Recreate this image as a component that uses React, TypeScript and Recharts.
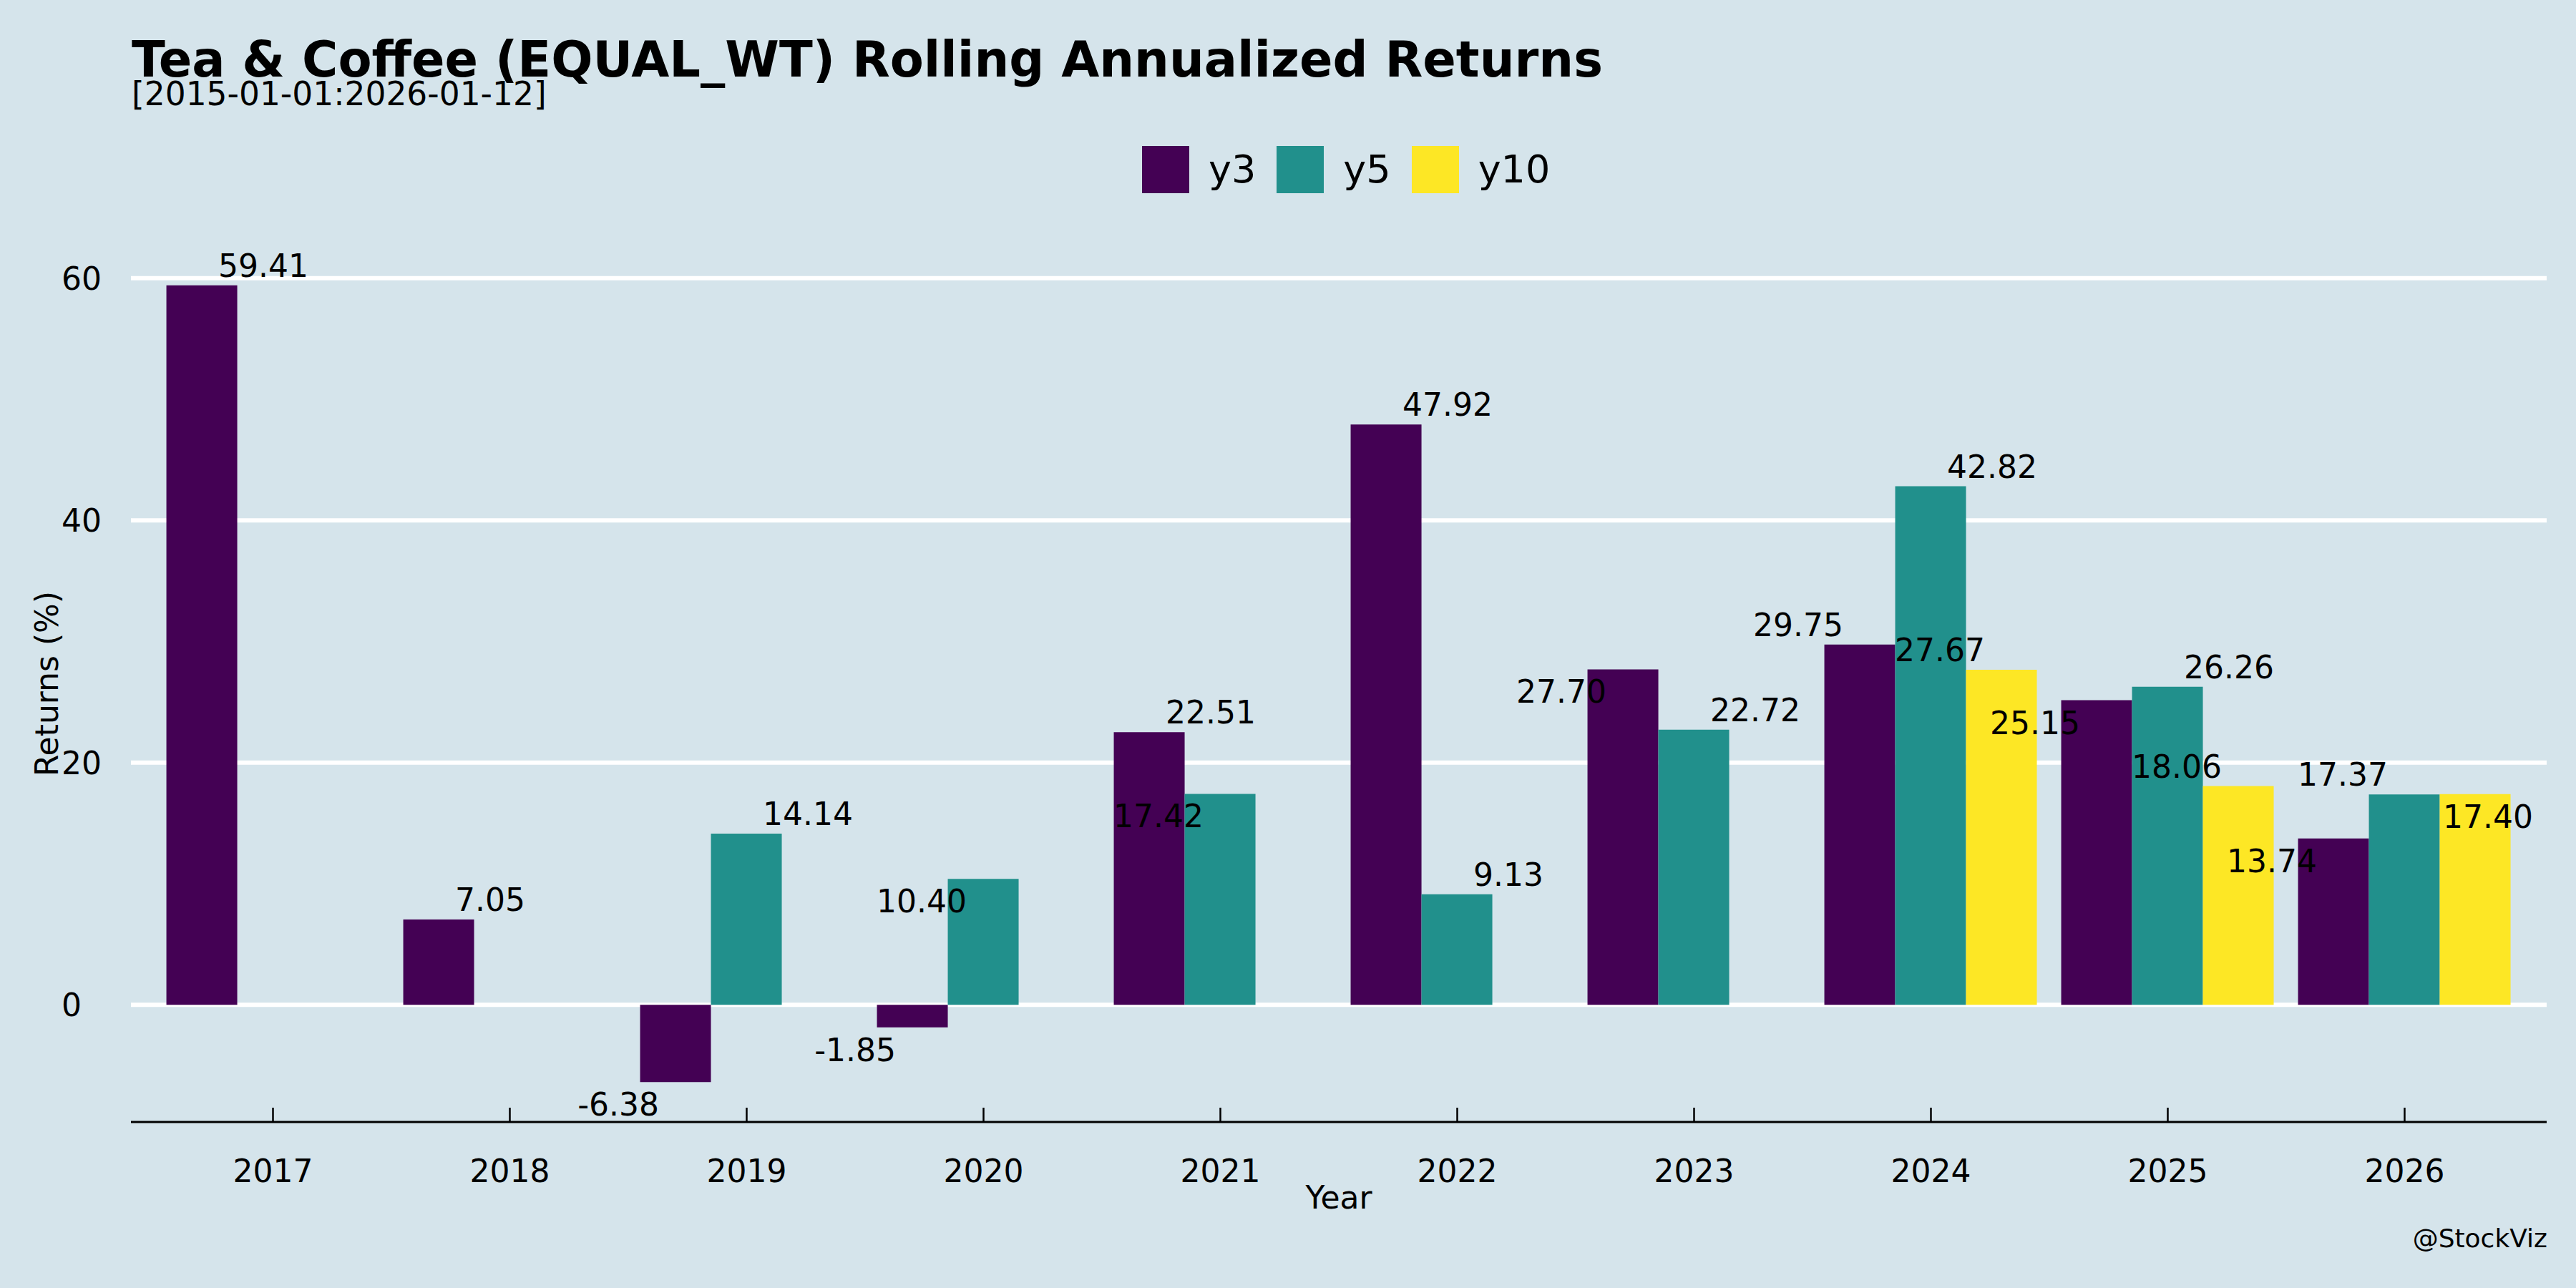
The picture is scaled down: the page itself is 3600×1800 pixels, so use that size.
import React from "react";
import { BarChart, Bar, XAxis, YAxis, CartesianGrid, LabelList } from "recharts";

const years = ["2017", "2018", "2019", "2020", "2021", "2022", "2023", "2024", "2025", "2026"];
const y3 = [59.41, 7.05, -6.38, -1.85, 22.51, 47.92, 27.7, 29.75, 25.15, 13.74];
const y5 = [null, null, 14.14, 10.4, 17.42, 9.13, 22.72, 42.82, 26.26, 17.37];
const y10 = [null, null, null, null, null, null, null, 27.67, 18.06, 17.4];
const yTicks = [0, 20, 40, 60];

// repel-style label side per bar: r/l/m = right/left/middle, a/b = above/below
const y3Place = ["ra", "ra", "lb", "lb", "ra", "ra", "lb", "la", "lb", "lb"];
const y5Place = [null, null, "ra", "lb", "lb", "ra", "ra", "ra", "ra", "la"];
const y10Place = [null, null, null, null, null, null, null, "la", "la", "mb"];

const series = [
  { key: "y3", color: "#440154", values: y3, place: y3Place },
  { key: "y5", color: "#21908C", values: y5, place: y5Place },
  { key: "y10", color: "#FDE725", values: y10, place: y10Place },
];

const data = years.map((year, i) => ({ year, y3: y3[i], y5: y5[i], y10: y10[i] }));

const W = 3600;
const H = 1800;
const Y_AXIS_W = 100;
const X_AXIS_H = 120;
const margin = { top: 343, right: 41, bottom: 112, left: 83 };
const plotBottom = H - margin.bottom - X_AXIS_H;
const plotLeft = margin.left + Y_AXIS_W;
const plotRight = W - margin.right;
const FONT = "'DejaVu Sans', sans-serif";
const BG = "#d5e4eb";

function makeLabel(values: (number | null)[], place: (string | null)[]) {
  return (props: any) => {
    const vb = props.viewBox ?? props;
    const { value } = props;
    if (value == null) return null;
    const i = values.indexOf(Number(value));
    const p = place[i];
    if (!p) return null;
    const cx = vb.x + vb.width / 2;
    const top = Math.min(vb.y, vb.y + vb.height);
    const bottom = Math.max(vb.y, vb.y + vb.height);
    const ay = value >= 0 ? top : bottom;
    const tx = p[0] === "r" ? cx + 23 : p[0] === "l" ? cx - 23 : cx + 18;
    const anchor = p[0] === "r" ? "start" : p[0] === "l" ? "end" : "middle";
    const ty = p[1] === "a" ? ay - 12 : ay + 47;
    return (
      <text x={tx} y={ty} textAnchor={anchor} fontSize={44} fontFamily={FONT} fill="#000">
        {Number(value).toFixed(2)}
      </text>
    );
  };
}

function XTick({ x, payload }: any) {
  return (
    <g>
      <line x1={x} x2={x} y1={plotBottom - 20} y2={plotBottom} stroke="#000" strokeWidth={2.5} />
      <text x={x} y={plotBottom + 84} textAnchor="middle" fontSize={44} fontFamily={FONT} fill="#000">
        {payload.value}
      </text>
    </g>
  );
}

function YTick({ y, payload }: any) {
  return (
    <text x={86} y={y} dy="0.36em" textAnchor="start" fontSize={44} fontFamily={FONT} fill="#000">
      {payload.value}
    </text>
  );
}

export default function App() {
  return (
    <div style={{ position: "absolute", left: 0, top: 0, width: W, height: H, background: BG, fontFamily: FONT }}>
      <BarChart width={W} height={H} data={data} margin={margin} barCategoryGap="5%" barGap={0}>
        <CartesianGrid horizontal vertical={false} horizontalValues={yTicks} stroke="#ffffff" strokeWidth={6} />
        <XAxis
          dataKey="year"
          height={X_AXIS_H}
          padding={{ left: 33, right: 33 }}
          axisLine={{ stroke: "#000", strokeWidth: 3 }}
          tickLine={false}
          tick={<XTick />}
          interval={0}
        />
        <YAxis
          width={Y_AXIS_W}
          domain={[-9.67, 62.7]}
          ticks={yTicks}
          allowDataOverflow
          axisLine={false}
          tickLine={false}
          tick={<YTick />}
        />
        {series.map((s) => (
          <Bar key={s.key} dataKey={s.key} name={s.key} fill={s.color} isAnimationActive={false}>
            <LabelList dataKey={s.key} content={makeLabel(s.values, s.place)} />
          </Bar>
        ))}
      </BarChart>

      <svg width={W} height={H} style={{ position: "absolute", left: 0, top: 0, pointerEvents: "none" }}>
        <text x={184} y={107} fontSize={68.6} fontWeight="bold" fontFamily={FONT} fill="#000">
          Tea &amp; Coffee (EQUAL_WT) Rolling Annualized Returns
        </text>
        <text x={184} y={147} fontSize={45.5} fontFamily={FONT} fill="#000">
          [2015-01-01:2026-01-12]
        </text>
        <text
          x={65}
          y={(margin.top + plotBottom) / 2}
          transform={`rotate(-90 65 ${(margin.top + plotBottom) / 2})`}
          textAnchor="middle"
          dominantBaseline="central"
          fontSize={44}
          fontFamily={FONT}
          fill="#000"
        >
          Returns (%)
        </text>
        <text x={(plotLeft + plotRight) / 2} y={1689} textAnchor="middle" fontSize={44} fontFamily={FONT} fill="#000">
          Year
        </text>
        <text x={3560} y={1743} textAnchor="end" fontSize={36} fontFamily={FONT} fill="#000">
          @StockViz
        </text>
      </svg>

      <div style={{ position: "absolute", left: 1596, top: 204, height: 66, display: "flex", alignItems: "center" }}>
        {series.map((s) => (
          <div key={s.key} style={{ display: "flex", alignItems: "center", marginRight: 29 }}>
            <div style={{ width: 66, height: 66, background: s.color }} />
            <span style={{ marginLeft: 27, fontSize: 54, lineHeight: 1, color: "#000" }}>{s.key}</span>
          </div>
        ))}
      </div>
    </div>
  );
}
